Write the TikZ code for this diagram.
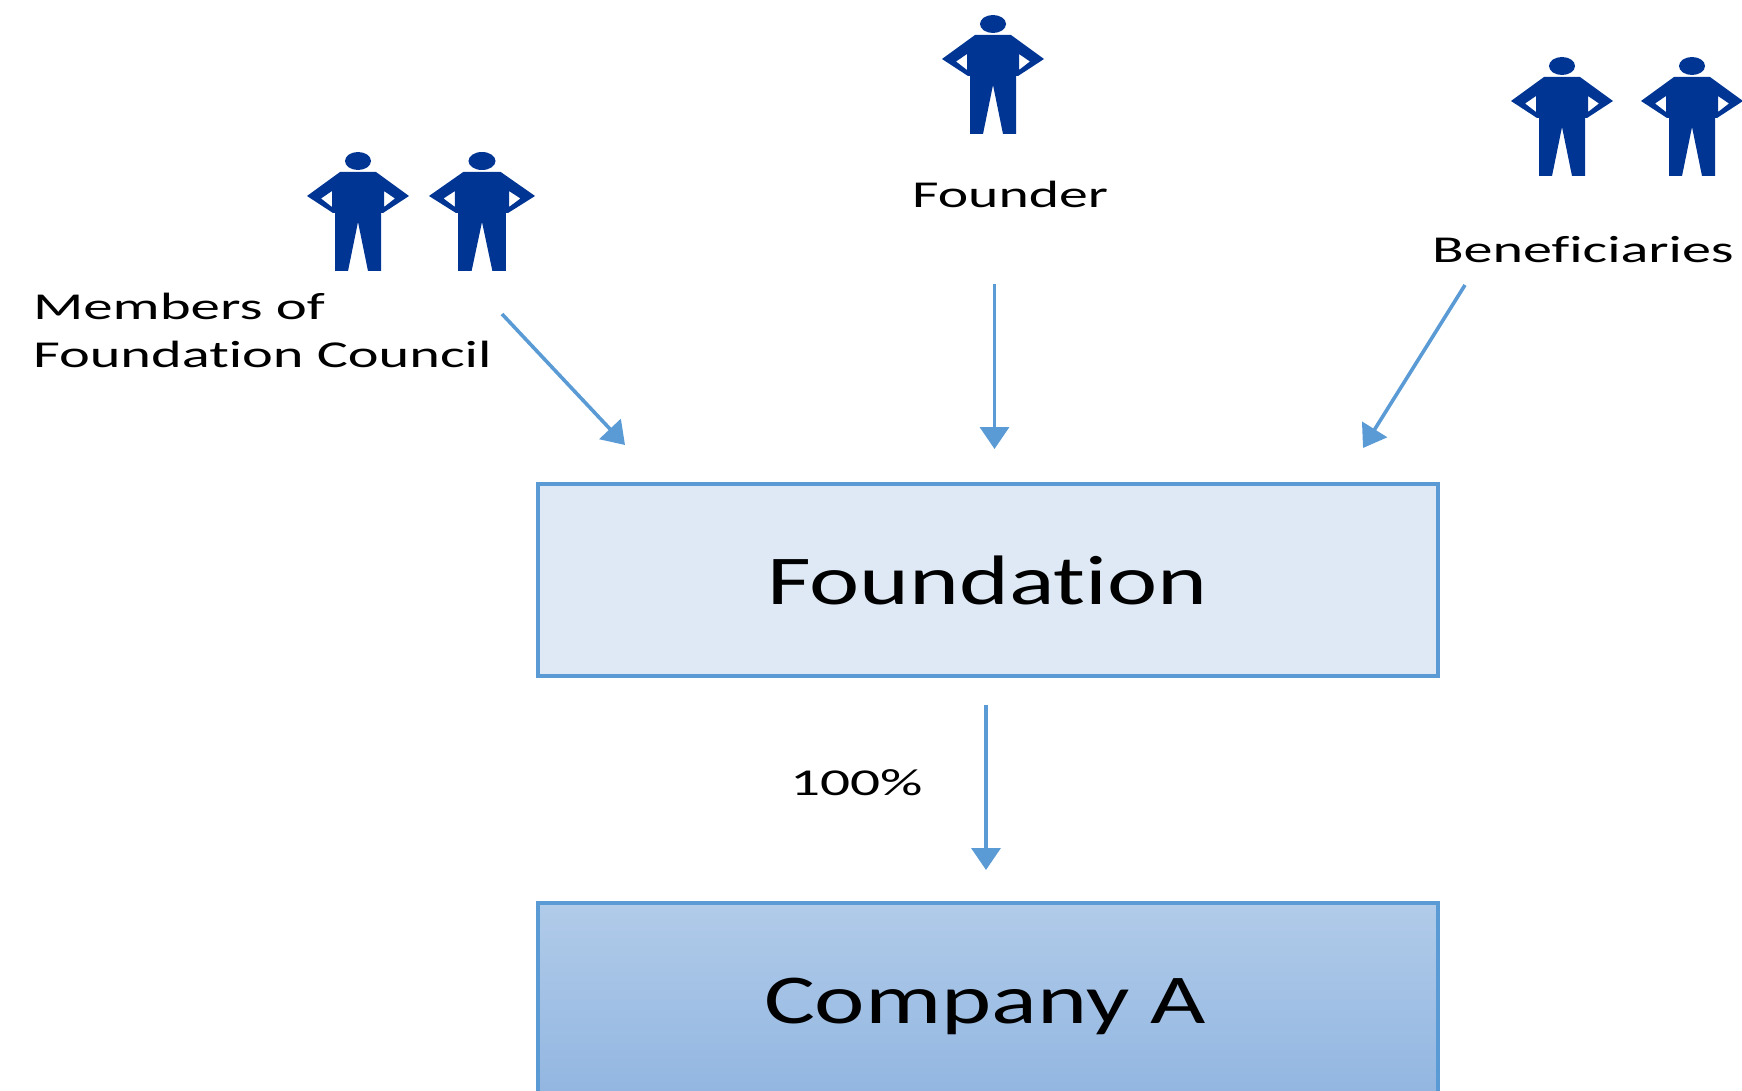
\documentclass[tikz,border=0pt]{standalone}
\usepackage{fontspec}
\setmainfont[Ligatures=NoCommon]{Carlito}
\usetikzlibrary{arrows.meta}
\definecolor{linkblue}{HTML}{5B9BD5}
\definecolor{figblue}{HTML}{003594}
\definecolor{palebox}{HTML}{DEE9F5}
\definecolor{gradtop}{HTML}{B1CBE9}
\definecolor{gradbot}{HTML}{92B6E1}
\newcommand{\stretched}[3]{\fontsize{#1}{#1}\selectfont\scalebox{#2}[1]{#3}}
\tikzset{
  x=1pt,y=-1pt,
  link/.style={draw=linkblue,line width=3.6pt,-{Triangle[length=22pt,width=29pt]}},
  lbl/.style={anchor=base west,inner sep=0pt,outer sep=0pt,text=black},
  boxed/.style={draw=linkblue,line width=4pt,minimum width=900pt,minimum height=192pt,inner sep=0pt,outer sep=0pt,anchor=north west},
  person/.pic={
    \fill[figblue] (0,0) ellipse[x radius=13,y radius=9];
    \fill[figblue,even odd rule]
      (-18,11)--(18,11)--(51,35)--(25,52)--(23,52)--(23,110)--(10,110)--(0,61)--(-10,110)--(-23,110)--(-23,52)--(-25,52)--(-51,35)--(-18,11)--cycle
      (26,30)--(37,37.5)--(26,46)--cycle
      (-26,30)--(-37,37.5)--(-26,46)--cycle;
  }
}
\begin{document}
\begin{tikzpicture}
\useasboundingbox (0,0) rectangle (1742,1091);
\begin{scope}
\clip (0,0) rectangle (1742,1091);
\node[boxed,fill=palebox] (foundationbox) at (538,484) {};
\node[boxed,top color=gradtop,bottom color=gradbot] (companybox) at (538,903) {};
\end{scope}
\node[lbl] (foundationlbl) at (767,604) {\stretched{70}{1.358}{Foundation}};
\node[lbl] (companylbl) at (764,1023) {\stretched{70}{1.365}{Company A}};
\node[lbl] (memberslbl) at (33,319) {\stretched{38}{1.55}{Members of}};
\node[lbl] (councillbl) at (33,367) {\stretched{38}{1.537}{Foundation Council}};
\node[lbl] (founderlbl) at (912,208) {\stretched{38}{1.52}{Founder}};
\node[lbl] (beneflbl) at (1432,262) {\stretched{38}{1.53}{Beneficiaries}};
\node[lbl] (pctlbl) at (790,795) {\stretched{38}{1.56}{100\%}};
\pic at (358,161) {person};
\pic[xscale=1.04] at (482,161) {person};
\pic at (993,24) {person};
\pic at (1562,66) {person};
\pic at (1692,66) {person};
\coordinate (a1) at (502,314); \coordinate (a2) at (625,445);
\coordinate (b1) at (994.5,284); \coordinate (b2) at (994.5,449);
\coordinate (c1) at (1465,285); \coordinate (c2) at (1363,448);
\coordinate (d1) at (986,705); \coordinate (d2) at (986,870);
\draw[link] (a1)--(a2);
\draw[link] (b1)--(b2);
\draw[link] (c1)--(c2);
\draw[link] (d1)--(d2);
\end{tikzpicture}
\end{document}
